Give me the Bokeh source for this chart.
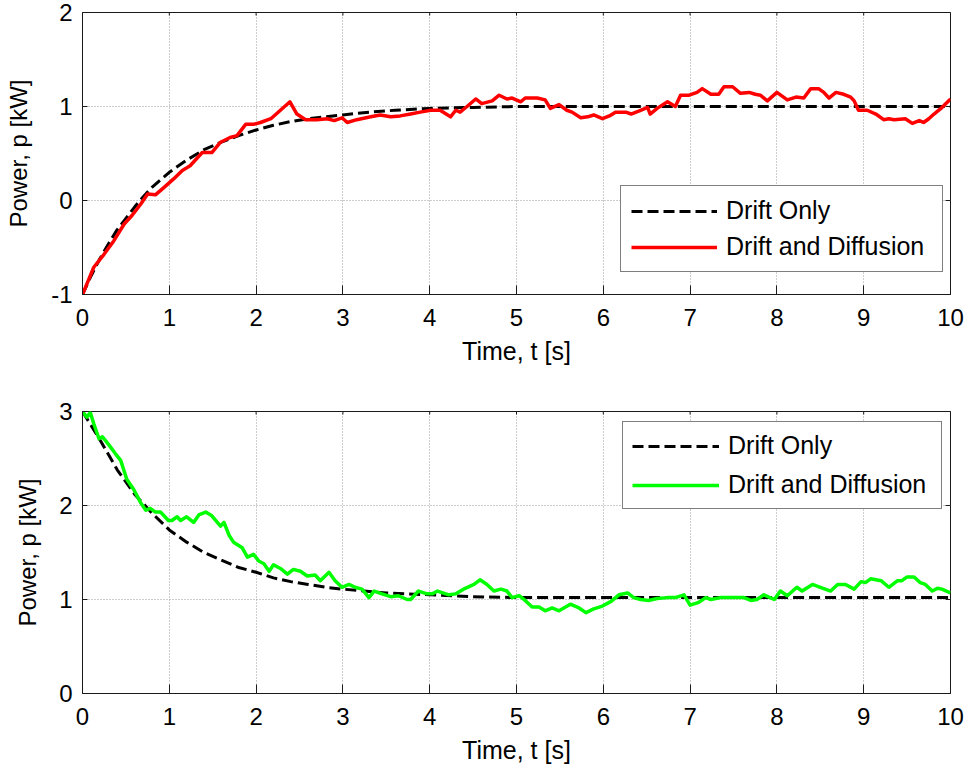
import math

from bokeh.plotting import figure
from bokeh.models import LinearAxis, FixedTicker, Range1d, Legend, LegendItem
from bokeh.layouts import column
from bokeh.embed import file_html
from bokeh.resources import INLINE

# ---- data -------------------------------------------------------------
x_ticks = [0, 1, 2, 3, 4, 5, 6, 7, 8, 9, 10]
y_ticks_top = [-1, 0, 1, 2]
y_ticks_bottom = [0, 1, 2, 3]

# upper panel: start at -1 kW
t_drift_top = [0.0, 0.1, 0.2, 0.3, 0.4, 0.5, 0.6, 0.7, 0.8, 0.9, 1.0, 1.2, 1.4,
               1.6, 1.8, 2.0, 2.2, 2.4, 2.6, 2.8, 3.0, 3.3, 3.6, 4.0, 4.5, 5.0, 10.0]
p_drift_top = [-1.0, -0.80, -0.62, -0.46, -0.31, -0.19, -0.07, 0.04, 0.14, 0.22, 0.30,
               0.43, 0.54, 0.62, 0.69, 0.75, 0.80, 0.84, 0.87, 0.89, 0.91, 0.94, 0.96,
               0.98, 0.99, 1.0, 1.0]

t_diff_top = [0.0, 0.13, 0.25, 0.36, 0.48, 0.57, 0.67, 0.75, 0.84, 0.94, 1.05, 1.15,
              1.24, 1.38, 1.49, 1.59, 1.70, 1.78, 1.88, 1.97, 2.05, 2.17, 2.28, 2.39,
              2.47, 2.57, 2.70, 2.82, 2.90, 2.99, 3.05, 3.16, 3.32, 3.43, 3.55, 3.66,
              3.78, 3.89, 4.01, 4.12, 4.24, 4.30, 4.35, 4.43, 4.53, 4.60, 4.72, 4.80,
              4.89, 4.95, 5.05, 5.10, 5.24, 5.33, 5.39, 5.49, 5.58, 5.64, 5.74, 5.82,
              5.89, 5.99, 6.07, 6.14, 6.26, 6.32, 6.43, 6.51, 6.54, 6.62, 6.74, 6.83,
              6.89, 6.99, 7.08, 7.14, 7.24, 7.33, 7.39, 7.49, 7.58, 7.68, 7.75, 7.81,
              7.89, 8.00, 8.12, 8.22, 8.31, 8.39, 8.48, 8.54, 8.60, 8.68, 8.77, 8.85,
              8.89, 8.94, 9.04, 9.14, 9.23, 9.29, 9.35, 9.48, 9.56, 9.64, 9.69, 9.75,
              9.81, 9.89, 10.0]
p_diff_top = [-1.0, -0.71, -0.57, -0.43, -0.25, -0.16, -0.04, 0.07, 0.06, 0.14, 0.23,
              0.32, 0.37, 0.51, 0.51, 0.62, 0.67, 0.69, 0.81, 0.81, 0.83, 0.87, 0.96,
              1.05, 0.92, 0.86, 0.86, 0.87, 0.85, 0.88, 0.83, 0.86, 0.89, 0.91, 0.89,
              0.90, 0.92, 0.94, 0.96, 0.96, 0.89, 0.96, 0.94, 1.00, 1.08, 1.03, 1.06,
              1.12, 1.08, 1.09, 1.05, 1.09, 1.09, 1.07, 0.98, 1.02, 0.96, 0.94, 0.88,
              0.89, 0.91, 0.87, 0.90, 0.94, 0.94, 0.92, 0.96, 0.99, 0.92, 0.98, 1.05,
              1.00, 1.12, 1.12, 1.15, 1.19, 1.13, 1.13, 1.21, 1.21, 1.14, 1.15, 1.13,
              1.12, 1.06, 1.15, 1.07, 1.10, 1.09, 1.19, 1.19, 1.15, 1.09, 1.15, 1.13,
              1.10, 1.06, 0.96, 0.96, 0.92, 0.86, 0.87, 0.86, 0.87, 0.82, 0.85, 0.83,
              0.87, 0.92, 0.98, 1.08]

# lower panel: start at 3 kW
t_drift_bottom = [0.0, 0.2, 0.4, 0.6, 0.8, 1.0, 1.2, 1.4, 1.6, 1.8, 2.0, 2.2, 2.4,
                  2.6, 2.8, 3.0, 3.5, 4.0, 4.5, 5.0, 10.0]
p_drift_bottom = [3.0, 2.70, 2.38, 2.12, 1.92, 1.74, 1.61, 1.50, 1.42, 1.34, 1.29,
                  1.23, 1.19, 1.16, 1.13, 1.11, 1.07, 1.05, 1.03, 1.02, 1.02]

t_diff_bottom = [0.0, 0.05, 0.09, 0.13, 0.19, 0.23, 0.30, 0.38, 0.44, 0.51, 0.59, 0.67,
                 0.73, 0.78, 0.84, 0.90, 0.99, 1.03, 1.09, 1.13, 1.20, 1.28, 1.34, 1.42,
                 1.49, 1.59, 1.63, 1.69, 1.74, 1.84, 1.90, 1.97, 2.03, 2.09, 2.15, 2.20,
                 2.28, 2.36, 2.43, 2.51, 2.59, 2.68, 2.74, 2.84, 2.91, 2.99, 3.07, 3.14,
                 3.22, 3.30, 3.36, 3.45, 3.55, 3.64, 3.74, 3.78, 3.87, 3.97, 4.03, 4.09,
                 4.22, 4.30, 4.39, 4.51, 4.58, 4.66, 4.74, 4.82, 4.89, 4.95, 5.03, 5.10,
                 5.18, 5.26, 5.33, 5.41, 5.49, 5.62, 5.72, 5.80, 5.89, 5.99, 6.09, 6.18,
                 6.28, 6.35, 6.43, 6.52, 6.62, 6.74, 6.83, 6.93, 7.00, 7.10, 7.18, 7.24,
                 7.35, 7.54, 7.62, 7.70, 7.77, 7.85, 7.97, 8.04, 8.12, 8.23, 8.29, 8.41,
                 8.50, 8.62, 8.70, 8.79, 8.89, 8.97, 9.02, 9.08, 9.20, 9.29, 9.39, 9.44,
                 9.50, 9.58, 9.65, 9.71, 9.79, 9.85, 9.90, 10.0]
p_diff_bottom = [3.0, 2.94, 2.99, 2.87, 2.71, 2.73, 2.65, 2.55, 2.48, 2.28, 2.17, 2.03,
                 1.95, 1.97, 1.93, 1.93, 1.84, 1.84, 1.88, 1.84, 1.88, 1.82, 1.90, 1.93,
                 1.89, 1.78, 1.82, 1.68, 1.61, 1.55, 1.45, 1.48, 1.41, 1.38, 1.30, 1.37,
                 1.33, 1.27, 1.32, 1.30, 1.25, 1.26, 1.20, 1.29, 1.20, 1.13, 1.16, 1.13,
                 1.11, 1.02, 1.09, 1.06, 1.03, 1.04, 1.00, 1.00, 1.09, 1.06, 1.06, 1.09,
                 1.05, 1.06, 1.11, 1.16, 1.21, 1.16, 1.09, 1.11, 1.09, 1.02, 1.04, 0.99,
                 0.92, 0.92, 0.88, 0.91, 0.88, 0.95, 0.91, 0.86, 0.90, 0.93, 0.98, 1.05,
                 1.07, 1.02, 1.00, 0.99, 1.01, 1.02, 1.02, 1.05, 0.94, 0.97, 1.02, 1.00,
                 1.02, 1.02, 1.02, 0.99, 1.00, 1.05, 1.00, 1.09, 1.04, 1.13, 1.09, 1.16,
                 1.13, 1.09, 1.16, 1.16, 1.11, 1.19, 1.18, 1.22, 1.20, 1.13, 1.20, 1.20,
                 1.24, 1.24, 1.18, 1.16, 1.09, 1.12, 1.11, 1.07]

FONT = "Liberation Sans"
AXIS_COLOR = "#1a1a1a"


def make_panel(y_range, y_ticks, t_drift, p_drift, t_diff, p_diff, diff_color,
               border_top, border_bottom, legend_loc, legend_pad, legend_spacing,
               legend_glyph_w, legend_label_w, ylabel_standoff):
    p = figure(frame_width=868, frame_height=282,
               x_range=Range1d(0, 10), y_range=Range1d(*y_range),
               output_backend="svg", toolbar_location=None,
               min_border_left=82, min_border_right=16,
               min_border_top=border_top, min_border_bottom=border_bottom,
               x_axis_location=None, y_axis_location=None,
               background_fill_color="white", border_fill_color="white")
    p.outline_line_color = AXIS_COLOR
    p.outline_line_width = 1

    xt = FixedTicker(ticks=x_ticks)
    yt = FixedTicker(ticks=y_ticks)

    def style(ax, tick_in):
        ax.axis_line_color = AXIS_COLOR
        ax.major_tick_line_color = AXIS_COLOR
        ax.major_tick_in = tick_in
        ax.major_tick_out = 0
        ax.minor_tick_line_color = None
        ax.major_label_text_font = FONT
        ax.major_label_text_font_size = "24px"
        ax.major_label_text_color = "black"
        ax.axis_label_text_font = FONT
        ax.axis_label_text_font_style = "normal"
        ax.axis_label_text_color = "black"

    bottom = LinearAxis(ticker=xt, axis_label="Time, t [s]")
    style(bottom, 9)
    bottom.major_label_standoff = 14
    bottom.axis_label_standoff = 8
    bottom.axis_label_text_font_size = "25px"
    p.add_layout(bottom, "below")

    left = LinearAxis(ticker=yt, axis_label="Power, p [kW]")
    style(left, 5)
    left.major_label_standoff = 10
    left.axis_label_standoff = ylabel_standoff
    left.axis_label_text_font_size = "24px"
    # plain hyphen for negative tick labels
    left.major_label_overrides = {t: str(t) for t in y_ticks if t < 0}
    p.add_layout(left, "left")

    p.xgrid.ticker = xt
    p.ygrid.ticker = yt
    for g in (p.xgrid, p.ygrid):
        g.grid_line_color = "#9a9a9a"
        g.grid_line_dash = "1 2"
        g.grid_line_width = 1

    # inward tick marks on the top and right edges of the box
    # (markers are centred on the edge; the frame clips the outer half)
    y_top = [y_range[1]] * len(x_ticks)
    x_right = [10] * len(y_ticks)
    p.scatter(x_ticks, y_top, marker="dash", size=6, angle=math.pi / 2,
              line_color=AXIS_COLOR, line_width=1)
    p.scatter(x_right, y_ticks, marker="dash", size=10,
              line_color=AXIS_COLOR, line_width=1)

    r_drift = p.line(t_drift, p_drift, line_color="black", line_width=3,
                     line_dash="11 5")
    r_diff = p.line(t_diff, p_diff, line_color=diff_color, line_width=3.5,
                    line_join="round")

    legend = Legend(items=[LegendItem(label="Drift Only", renderers=[r_drift]),
                           LegendItem(label="Drift and Diffusion", renderers=[r_diff])],
                    location=legend_loc, orientation="vertical",
                    margin=0, padding=legend_pad, spacing=legend_spacing,
                    glyph_width=legend_glyph_w, glyph_height=28, label_height=28,
                    label_standoff=9, label_width=legend_label_w,
                    label_text_font=FONT, label_text_font_size="25px",
                    label_text_color="black",
                    border_line_color="black", border_line_width=1,
                    background_fill_color="white", background_fill_alpha=1.0)
    p.add_layout(legend)
    return p


p1 = make_panel((-1, 2), y_ticks_top, t_drift_top, p_drift_top,
                t_diff_top, p_diff_top, "#ff0000", 12, 91,
                (538, 22), 10, 7, 86, 206, 16)
p2 = make_panel((0, 3), y_ticks_bottom, t_drift_bottom, p_drift_bottom,
                t_diff_bottom, p_diff_bottom, "#00ff00", 26, 76,
                (540, 184), 9, 10, 87, 204, 15)

layout = column(p1, p2, spacing=0)
open("out.html", "w").write(file_html(layout, INLINE))
